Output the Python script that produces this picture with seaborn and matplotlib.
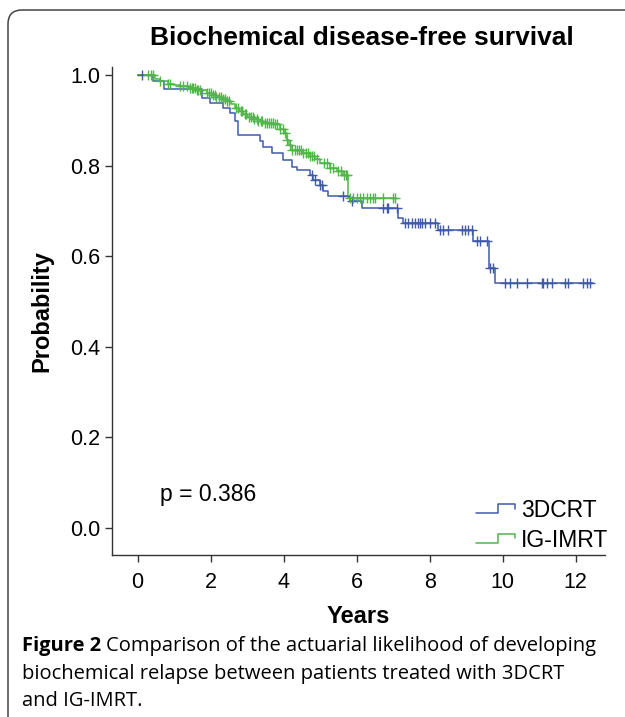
import numpy as np
import pandas as pd
import matplotlib
matplotlib.use("Agg")
import matplotlib.pyplot as plt
from matplotlib.legend_handler import HandlerBase
from matplotlib.lines import Line2D
from matplotlib.patches import FancyBboxPatch
import seaborn as sns

# Kaplan-Meier steps (years, survival)
crt_times = [0, 0.42, 0.72, 1.75, 1.98, 2.35, 2.53, 2.67, 2.76, 3.35, 3.44, 3.67, 3.99,
             4.22, 4.36, 4.72, 4.81, 4.99, 5.09, 5.22, 5.83, 6.14, 7.14, 7.28, 8.24,
             9.19, 9.63, 9.79]
crt_surv = [1.0, 0.987, 0.970, 0.950, 0.938, 0.927, 0.916, 0.898, 0.868, 0.854, 0.841,
            0.828, 0.813, 0.798, 0.791, 0.780, 0.769, 0.758, 0.743, 0.732, 0.721, 0.707,
            0.684, 0.673, 0.657, 0.634, 0.574, 0.541]
crt_end = 12.48
crt_censor = [0.11, 4.77, 4.86, 4.99, 5.04, 5.63, 5.86, 6.73, 6.82, 6.87, 7.1, 7.32,
              7.41, 7.51, 7.60, 7.69, 7.73, 7.78, 7.87, 8.01, 8.15, 8.28, 8.37, 8.51,
              8.88, 8.97, 9.06, 9.15, 9.29, 9.38, 9.56, 9.65, 9.74, 10.06, 10.20, 10.38,
              10.66, 11.07, 11.11, 11.21, 11.34, 11.71, 11.80, 12.21, 12.30, 12.39]

imrt_times = [0, 0.47, 0.6, 0.84, 1.0, 1.16, 1.4, 1.62, 1.89, 2.05, 2.16, 2.3, 2.44,
              2.55, 2.67, 2.78, 2.89, 3.0, 3.17, 3.3, 3.44, 3.72, 3.9, 4.0, 4.08, 4.15,
              4.22, 4.5, 4.72, 4.85, 4.99, 5.27, 5.45, 5.63, 5.77]
imrt_surv = [1.0, 0.992, 0.987, 0.981, 0.978, 0.975, 0.971, 0.968, 0.961, 0.957, 0.952,
             0.947, 0.942, 0.936, 0.927, 0.920, 0.913, 0.908, 0.902, 0.898, 0.894, 0.891,
             0.880, 0.872, 0.857, 0.845, 0.835, 0.828, 0.821, 0.814, 0.806, 0.795, 0.788,
             0.780, 0.729]
imrt_end = 7.08
imrt_censor = [0.28, 0.37, 0.42, 0.6, 0.84, 0.9, 1.16, 1.25, 1.34, 1.43, 1.48, 1.52,
               1.57, 1.62, 1.66, 1.71, 1.89, 1.95, 2.0, 2.06, 2.11, 2.16, 2.22, 2.27,
               2.33, 2.38, 2.44, 2.5, 2.7, 2.76, 2.82, 2.87, 2.93, 2.98, 3.04, 3.1, 3.15,
               3.2, 3.26, 3.31, 3.37, 3.42, 3.48, 3.53, 3.59, 3.64, 3.7, 3.75, 3.81, 3.9,
               3.99, 4.04, 4.08, 4.17, 4.22, 4.3, 4.36, 4.42, 4.48, 4.54, 4.6, 4.66,
               4.72, 4.78, 4.84, 4.9, 5.1, 5.18, 5.27, 5.36, 5.5, 5.58, 5.66, 5.7, 5.73,
               5.82, 5.91, 6.0, 6.09, 6.18, 6.27, 6.36, 6.45, 6.5, 6.73, 7.0, 7.05]

groups = ["3DCRT", "IG-IMRT"]
colors = {"3DCRT": "#3f5aa8", "IG-IMRT": "#4fb648"}

steps = pd.concat([
    pd.DataFrame({"Years": crt_times + [crt_end], "Probability": crt_surv + [crt_surv[-1]], "group": "3DCRT"}),
    pd.DataFrame({"Years": imrt_times + [imrt_end], "Probability": imrt_surv + [imrt_surv[-1]], "group": "IG-IMRT"}),
])


def surv_at(times, surv, t):
    idx = np.searchsorted(times, t, side="right") - 1
    return np.array(surv)[idx]


cens = pd.concat([
    pd.DataFrame({"Years": crt_censor, "Probability": surv_at(crt_times, crt_surv, crt_censor), "group": "3DCRT"}),
    pd.DataFrame({"Years": imrt_censor, "Probability": surv_at(imrt_times, imrt_surv, imrt_censor), "group": "IG-IMRT"}),
])

sns.set_style("ticks")
plt.rcParams["font.family"] = ["Liberation Sans", "DejaVu Sans"]
plt.rcParams["text.color"] = "black"
plt.rcParams["axes.labelcolor"] = "black"
plt.rcParams["xtick.color"] = "black"
plt.rcParams["ytick.color"] = "black"

fig = plt.figure(figsize=(6.25, 7.17), dpi=100)
ax = fig.add_axes([0.1787, 0.226, 0.968 - 0.1787, 0.9066 - 0.226])

sns.lineplot(data=steps, x="Years", y="Probability", hue="group", palette=colors,
             estimator=None, sort=False, drawstyle="steps-post", linewidth=1.1,
             legend=False, ax=ax)
for g in groups:
    sub = cens[cens["group"] == g]
    ax.plot(sub["Years"], sub["Probability"], linestyle="none", marker="+",
            markersize=7, markeredgewidth=1.0, color=colors[g])

ax.set_xlim(-0.71, 12.8)
ax.set_ylim(-0.06, 1.018)
ax.set_xticks(range(0, 13, 2))
ax.set_yticks([0, 0.2, 0.4, 0.6, 0.8, 1.0])
ax.set_yticklabels(["0.0", "0.2", "0.4", "0.6", "0.8", "1.0"])
ax.tick_params(labelsize=15.5, length=5, width=1, color="#333333")
ax.tick_params(axis="x", pad=7)
ax.tick_params(axis="y", pad=3)
for s in ["left", "bottom"]:
    ax.spines[s].set_color("#333333")
    ax.spines[s].set_linewidth(1.0)
sns.despine(ax=ax)
ax.set_xlabel("Years", fontsize=17, fontweight="bold", labelpad=9)
ax.set_ylabel("Probability", fontsize=17, fontweight="bold", labelpad=12)

ax.text(0.6, 0.06, "p = 0.386", fontsize=16.5)


class StepHandler(HandlerBase):
    def create_artists(self, legend, orig, xd, yd, w, h, fontsize, trans):
        x0, x1 = -xd, -xd + w
        ylo, yhi = -yd + 0.25 * h, -yd + 0.85 * h
        xs = [x0, x0 + 0.55 * w, x0 + 0.55 * w, x1, x1]
        ys = [ylo, ylo, yhi, yhi, -yd + 0.55 * h]
        ln = Line2D(xs, ys, color=orig.get_color(), linewidth=1.1, transform=trans)
        return [ln]


handles = [Line2D([], [], color=colors[g]) for g in groups]
ax.legend(handles, groups, handler_map={Line2D: StepHandler()}, loc="lower right",
          bbox_to_anchor=(1.03, -0.018), frameon=False, fontsize=16.5, handlelength=1.7,
          handletextpad=0.25, labelspacing=0.3, borderaxespad=0.1)

fig.text(362 / 625, 1 - 38 / 717, "Biochemical disease-free survival", fontsize=19,
         fontweight="bold", ha="center", va="center")

# caption
cap_y = [1 - 646 / 717, 1 - 674 / 717, 1 - 701 / 717]
t1 = fig.text(22 / 625, cap_y[0], "Figure 2", fontsize=14.5, fontweight="bold",
              family="Open Sans", va="center")
fig.canvas.draw()
bb = t1.get_window_extent()
fig.text((bb.x1 + 5) / 625, cap_y[0], "Comparison of the actuarial likelihood of developing",
         fontsize=14.5, family="Open Sans", va="center")
fig.text(22 / 625, cap_y[1], "biochemical relapse between patients treated with 3DCRT",
         fontsize=14.5, family="Open Sans", va="center")
fig.text(22 / 625, cap_y[2], "and IG-IMRT.", fontsize=14.5, family="Open Sans", va="center")

# rounded frame around the figure panel
frame = FancyBboxPatch((0.08, -1.0), 10, 8.07,
                       boxstyle="round,pad=0,rounding_size=0.14",
                       transform=fig.dpi_scale_trans, fill=False,
                       edgecolor="#444444", linewidth=1.1)
fig.add_artist(frame)

fig.savefig("out.png", dpi=100)
